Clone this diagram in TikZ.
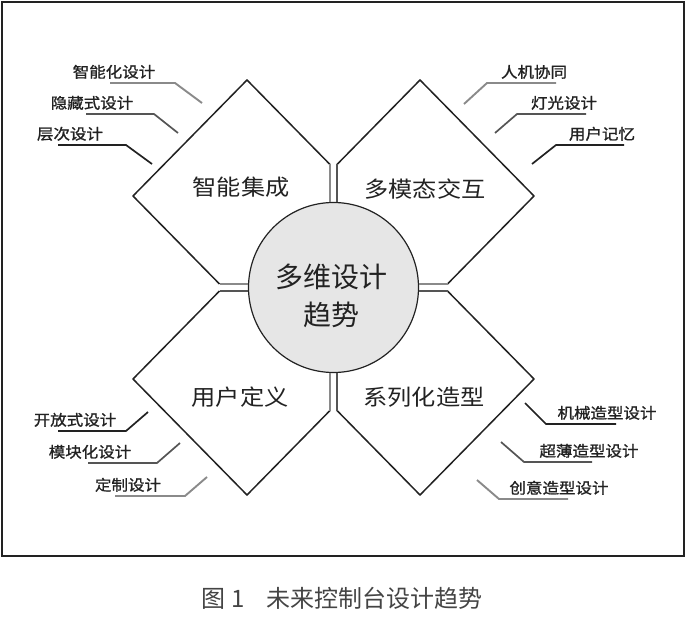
\documentclass[tikz,border=0pt]{standalone}
\usepackage{fontspec}
\setmainfont{Noto Sans CJK SC}
\newfontfamily\widefont[FakeStretch=1.1]{Noto Sans CJK SC}
\newfontfamily\subfont[FakeStretch=1.1, FakeBold=1.2]{Noto Sans CJK SC}
\usepackage{xcolor}
\definecolor{lnblack}{HTML}{222222}
\definecolor{lndark}{HTML}{555555}
\definecolor{lngray}{HTML}{8A8A8A}
\definecolor{hubbg}{HTML}{E6E6E6}
\definecolor{capgray}{HTML}{444444}
\tikzset{
  frame/.style={draw=lnblack, line width=1.6pt},
  hub/.style={circle, draw=lnblack, line width=1.2pt, fill=hubbg,
    minimum size=170pt, inner sep=0pt},
  hubtext/.style={align=center, font=\fontsize{28}{38}\selectfont, text=lnblack},
  petal/.style={draw=lnblack, line width=1.5pt, line join=round},
  petaltext/.style={font=\widefont\fontsize{22}{26}\selectfont, text=lnblack},
  tubeg/.style={draw=lngray, line width=2pt},
  tubek/.style={draw=lndark, line width=1.5pt},
  sub/.style={anchor=south, inner xsep=0pt, inner ysep=4pt,
    font=\subfont\fontsize{15}{17}\selectfont, text=lnblack},
  leadk/.style={lnblack, line width=1.7pt},
  leadd/.style={lndark, line width=1.7pt},
  leadg/.style={lngray, line width=1.9pt},
  caption/.style={font=\fontsize{24}{28}\selectfont, text=capgray},
}

\begin{document}
\begin{tikzpicture}[x=1pt, y=-1pt]
  \useasboundingbox (0,0) rectangle (688,620);
  \draw[frame] (2,2) rectangle (684,556);

  \node[hub] (ctr) at (333.5,287.5) {};
  \node[hubtext] (ctrtxt) at (331,296) {多维设计\\趋势};

  % petal corners and tube ends
  \coordinate (tlN) at (247,80);    \coordinate (tlW) at (133,196);
  \coordinate (tlV) at (330,164.5); \coordinate (tlH) at (219.5,284);
  \coordinate (trN) at (420,80);    \coordinate (trE) at (534,196);
  \coordinate (trV) at (337,164.5); \coordinate (trH) at (447.5,284);
  \coordinate (blS) at (247,495);   \coordinate (blW) at (133,379);
  \coordinate (blV) at (330,410.5); \coordinate (blH) at (219.5,291);
  \coordinate (brS) at (420,495);   \coordinate (brE) at (534,379);
  \coordinate (brV) at (337,410.5); \coordinate (brH) at (447.5,291);

  \draw[petal] (tlV) -- (tlN) -- (tlW) -- (tlH);
  \draw[petal] (trV) -- (trN) -- (trE) -- (trH);
  \draw[petal] (blV) -- (blS) -- (blW) -- (blH);
  \draw[petal] (brV) -- (brS) -- (brE) -- (brH);

  \draw[tubeg] (tlV) -- (tlV |- ctr.north);
  \draw[tubeg] (tlH) -- (tlH -| ctr.west);
  \draw[tubek] (trV) -- (trV |- ctr.north);
  \draw[tubeg] (trH) -- (trH -| ctr.east);
  \draw[tubeg] (blV) -- (blV |- ctr.south);
  \draw[tubek] (blH) -- (blH -| ctr.west);
  \draw[tubek] (brV) -- (brV |- ctr.south);
  \draw[tubek] (brH) -- (brH -| ctr.east);

  \node[petaltext] (znjc) at (241,187) {智能集成};
  \node[petaltext] (dmt)  at (425,189) {多模态交互};
  \node[petaltext] (yhdy) at (240,397) {用户定义};
  \node[petaltext] (xlh)  at (424,397) {系列化造型};

  % leader labels, top left
  \node[sub] (tl1) at (114,83)  {智能化设计};
  \node[sub] (tl2) at (92,114)  {隐藏式设计};
  \node[sub] (tl3) at (70,145)  {层次设计};
  \coordinate (tl1t) at (202,103);
  \coordinate (tl2t) at (178,133);
  \coordinate (tl3t) at (152,164);
  \draw[leadg] ([xshift=-4]tl1.south) -- ([xshift=61]tl1.south) -- (tl1t);
  \draw[leadd] ([xshift=-6]tl2.south) -- ([xshift=62]tl2.south) -- (tl2t);
  \draw[leadk] ([xshift=-12]tl3.south) -- ([xshift=56]tl3.south) -- (tl3t);

  % top right
  \node[sub] (tr1) at (534,83)  {人机协同};
  \node[sub] (tr2) at (564,114) {灯光设计};
  \node[sub] (tr3) at (602,145) {用户记忆};
  \coordinate (tr1t) at (464,104);
  \coordinate (tr2t) at (495,133);
  \coordinate (tr3t) at (532,164);
  \draw[leadg] ([xshift=22]tr1.south) -- ([xshift=-47]tr1.south) -- (tr1t);
  \draw[leadd] ([xshift=22]tr2.south) -- ([xshift=-47]tr2.south) -- (tr2t);
  \draw[leadk] ([xshift=22]tr3.south) -- ([xshift=-46]tr3.south) -- (tr3t);

  % bottom left
  \node[sub] (bl1) at (75,431)  {开放式设计};
  \node[sub] (bl2) at (90,463)  {模块化设计};
  \node[sub] (bl3) at (128,496) {定制设计};
  \coordinate (bl1t) at (148,412);
  \coordinate (bl2t) at (180,443);
  \coordinate (bl3t) at (207,477);
  \draw[leadk] ([xshift=-17]bl1.south) -- ([xshift=51]bl1.south) -- (bl1t);
  \draw[leadd] ([xshift=-2]bl2.south) -- ([xshift=67]bl2.south) -- (bl2t);
  \draw[leadg] ([xshift=-13]bl3.south) -- ([xshift=57]bl3.south) -- (bl3t);

  % bottom right
  \node[sub] (br1) at (607,424) {机械造型设计};
  \node[sub] (br2) at (589,462) {超薄造型设计};
  \node[sub] (br3) at (559,499) {创意造型设计};
  \coordinate (br1t) at (525,403);
  \coordinate (br2t) at (501,442);
  \coordinate (br3t) at (477,480);
  \draw[leadk] ([xshift=9]br1.south) -- ([xshift=-61]br1.south) -- (br1t);
  \draw[leadd] ([xshift=3]br2.south) -- ([xshift=-65]br2.south) -- (br2t);
  \draw[leadg] ([xshift=9]br3.south) -- ([xshift=-60]br3.south) -- (br3t);

  \node[caption] (cap) at (342,598) {图\hspace{6pt}1\hspace{22pt}未来控制台设计趋势};
\end{tikzpicture}
\end{document}
